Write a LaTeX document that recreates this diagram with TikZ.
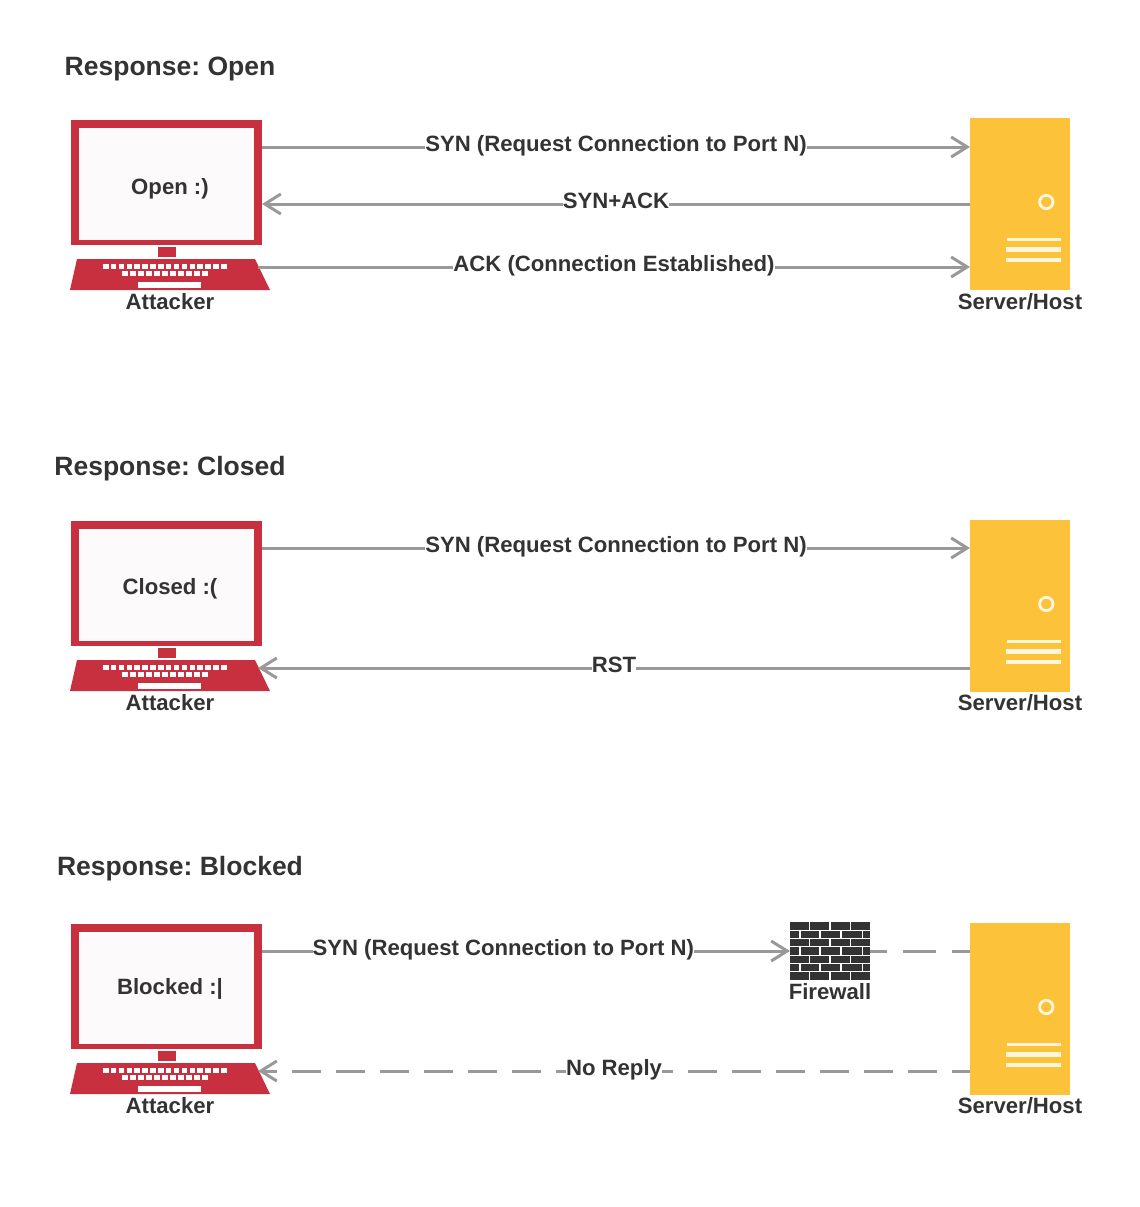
\documentclass[tikz,border=0pt]{standalone}
\usepackage{fontspec}
\setmainfont{Liberation Sans}
\usepackage{xcolor}
\usetikzlibrary{arrows.meta}
\definecolor{hostred}{HTML}{C8303F}
\definecolor{hostyellow}{HTML}{FCC23A}
\definecolor{flowgray}{HTML}{999999}
\definecolor{inkgray}{HTML}{333333}
\definecolor{screenwhite}{HTML}{FCFAFB}
\definecolor{creamline}{HTML}{FFF6DC}
\frenchspacing

\begin{document}
\begin{tikzpicture}[x=1pt,y=-1pt,
      inklabel/.style={text=inkgray, font=\bfseries\fontsize{22.15}{26}\selectfont, inner sep=0pt, anchor=base},
      title/.style={text=inkgray, font=\bfseries\fontsize{26.5}{30}\selectfont, inner sep=0pt, anchor=base},
      flow/.style={draw=flowgray, line width=3pt},
      flowtip/.style={-{Straight Barb[length=16pt,width=20pt]}},
      flowlabel/.style={inklabel, anchor=center, fill=white, text height=16pt, text depth=5pt, yshift=1pt},
      attacker/.pic={
        \node[draw=hostred, line width=8pt, minimum width=183pt, minimum height=117pt, inner sep=0pt] (-mon) at (166.5,182.5) {};
        \fill[screenwhite] (79,128) rectangle (254,240);
        \fill[hostred] (158,247) rectangle (176,257);
        \fill[hostred] (77,259) -- (255,259) -- (270,290) -- (70,290) -- cycle;
        \foreach \k in {0,...,15} \fill[white] (103+\k*7.87,263.5) rectangle ++(5.5,5);
        \foreach \k in {0,...,10} \fill[white] (122+\k*8,270.5) rectangle ++(5.5,5);
        \fill[white] (138,282) rectangle (201,288);
        \coordinate (-kbd) at (258,267);
        \node[inklabel] (-name) at (170,309.5) {Attacker};
      },
      server/.pic={
        \node[fill=hostyellow, minimum width=100pt, minimum height=172pt, inner sep=0pt, outer sep=0pt] (-box) at (1020,204) {};
        \draw[creamline, line width=2.8pt] (1046.3,202) circle (6.7);
        \fill[creamline] (1006.5,237.5) rectangle (1061,241);
        \fill[creamline] (1006,246.5) rectangle (1061,251.5);
        \fill[creamline] (1006,257.5) rectangle (1061,262);
      }]
      \useasboundingbox (0,0) rectangle (1140,1207);

      % open
      \node[title] (titleopen) at (170,75) {Response: Open};
      \pic (att1) at (0,0) {attacker};
      \pic (srv1) at (0,0) {server};
      \node[inklabel] (screen1) at (170,194) {Open :)};
      \node[inklabel] (srvname1) at (1020,309.5) {Server/Host};
      \coordinate (syn1) at ([yshift=35.5pt]att1-mon.east);
      \draw[flow, flowtip] (syn1) -- node[flowlabel] {SYN (Request Connection to Port N)} (syn1 -| srv1-box.west);
      \draw[flow, flowtip] (srv1-box.west) -- node[flowlabel] {SYN+ACK} (srv1-box.west -| att1-mon.east);
      \draw[flow, flowtip] (att1-kbd) -- node[flowlabel] {ACK (Connection Established)} (att1-kbd -| srv1-box.west);

      % closed
      \node[title] (titleclosed) at (170,475) {Response: Closed};
      \pic (att2) at (0,401) {attacker};
      \pic (srv2) at (0,402) {server};
      \node[inklabel] (screen2) at (170,594) {Closed :(};
      \node[inklabel] (srvname2) at (1020,710.5) {Server/Host};
      \coordinate (syn2) at ([yshift=35.5pt]att2-mon.east);
      \draw[flow, flowtip] (syn2) -- node[flowlabel] {SYN (Request Connection to Port N)} (syn2 -| srv2-box.west);
      \draw[flow, flowtip] (att2-kbd -| srv2-box.west) -- node[flowlabel] {RST} (att2-kbd);

      % blocked
      \node[title] (titleblocked) at (180,875) {Response: Blocked};
      \pic (att3) at (0,804) {attacker};
      \pic (srv3) at (0,805) {server};
      \node[inklabel] (screen3) at (170,994) {Blocked :|};
      \node[inklabel] (srvname3) at (1020,1113.5) {Server/Host};
      \node[fill=inkgray, minimum width=80pt, minimum height=58pt, inner sep=0pt, outer sep=0pt] (wall) at (830,951) {};
      \foreach \r in {1,...,6} \draw[white, line width=1.1pt] (790,922+\r*8.3) -- (870,922+\r*8.3);
      \foreach \r in {0,2,4,6} \foreach \g in {809.5,830,850.3} \draw[white, line width=1.1pt] (\g,922+\r*8.3) -- ++(0,8.3);
      \foreach \r in {1,3,5} \foreach \g in {800,820,841,862.7} \draw[white, line width=1.1pt] (\g,922+\r*8.3) -- ++(0,8.3);
      \node[inklabel] (wallname) at (830,999) {Firewall};
      \coordinate (syn3) at ([yshift=35.5pt]att3-mon.east);
      \draw[flow, flowtip] (syn3) -- node[flowlabel, pos=.457] {SYN (Request Connection to Port N)} (syn3 -| wall.west);
      \draw[flow, dash pattern=on 33pt off 16pt, dash phase=16pt] (syn3 -| wall.east) -- (syn3 -| srv3-box.west);
      \draw[flow, flowtip, dash pattern=on 29pt off 15pt, dash phase=11pt] (att3-kbd -| srv3-box.west) -- node[flowlabel] {No Reply} (att3-kbd);
\end{tikzpicture}
\end{document}
